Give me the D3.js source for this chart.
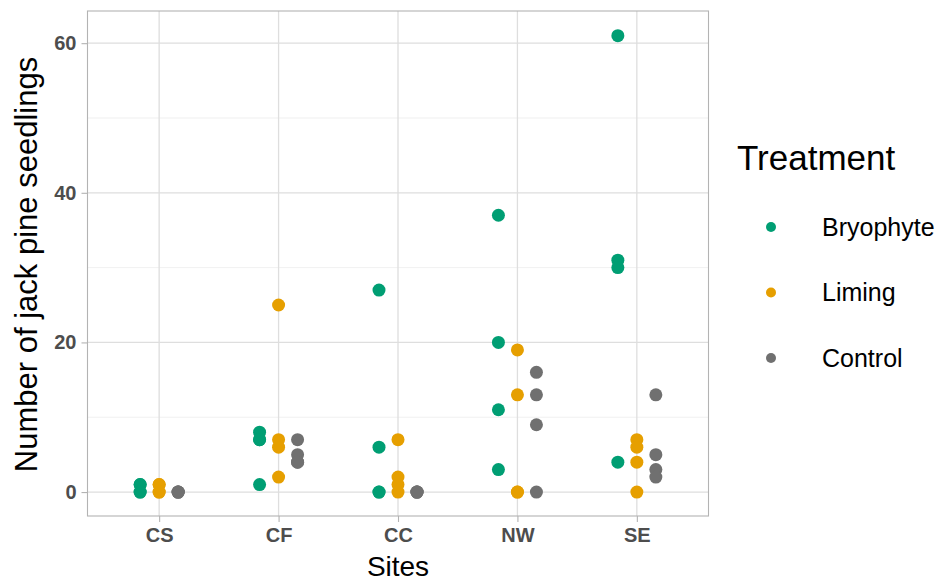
<!DOCTYPE html>
<html><head><meta charset="utf-8">
<script src="https://cdn.jsdelivr.net/npm/d3@7"></script>
<style>body{margin:0;background:#fff}svg{display:block;font-family:"Liberation Sans",Arial,sans-serif}</style>
</head><body><svg id="c" width="949" height="583"></svg>
<script>
const sites = ["CS","CF","CC","NW","SE"];
const treatments = ["Bryophyte","Liming","Control"];
const colors = ["#009E73","#E69F00","#707070"];
const yTicks = [0,20,40,60];
const yMinor = [10,30,50];
const bryophyte = {CS:[1,1,0,0], CF:[8,7,7,1], CC:[27,6,0,0], NW:[37,20,11,3], SE:[61,31,30,4]};
const liming    = {CS:[1,1,0,0], CF:[25,7,6,2], CC:[7,2,1,0], NW:[19,13,0,0], SE:[7,6,4,0]};
const control   = {CS:[0,0,0,0], CF:[7,5,4,4], CC:[0,0,0,0], NW:[16,13,9,0], SE:[13,5,3,2]};
const seriesData = [bryophyte, liming, control];

const svg = d3.select("#c");
const L=87.5, R=708.5, T=11, B=516;
const x = d3.scalePoint().domain(sites).range([L,R]).padding(0.6);
const dx = d3.scalePoint().domain(treatments).range([-19,19]);
const y = d3.scaleLinear().domain([-3.2,64.3]).range([B,T]);
const col = d3.scaleOrdinal().domain(treatments).range(colors);

// grid
const g = svg.append("g");
g.selectAll(".minor").data(yMinor).join("line")
  .attr("x1",L).attr("x2",R).attr("y1",d=>y(d)).attr("y2",d=>y(d))
  .attr("stroke","#ececec").attr("stroke-width",0.8);
g.selectAll(".major").data(yTicks).join("line")
  .attr("x1",L).attr("x2",R).attr("y1",d=>y(d)).attr("y2",d=>y(d))
  .attr("stroke","#dedede").attr("stroke-width",1.3);
g.selectAll(".vmajor").data(sites).join("line")
  .attr("y1",T).attr("y2",B).attr("x1",d=>x(d)).attr("x2",d=>x(d))
  .attr("stroke","#dedede").attr("stroke-width",1.3);

// axes
const yAxis = svg.append("g").attr("transform",`translate(${L},0)`)
  .call(d3.axisLeft(y).tickValues(yTicks).tickSize(6).tickPadding(5));
const xAxis = svg.append("g").attr("transform",`translate(0,${B})`)
  .call(d3.axisBottom(x).tickSize(6).tickPadding(6));
[yAxis,xAxis].forEach(a=>{
  a.select(".domain").remove();
  a.selectAll(".tick line").attr("stroke","#b3b3b3").attr("stroke-width",1.1);
  a.selectAll(".tick text").attr("fill","#4d4d4d").attr("font-size","20px")
    .attr("font-weight","bold").attr("font-family","Liberation Sans, Arial, sans-serif");
});

// panel border
svg.append("rect").attr("x",L).attr("y",T).attr("width",R-L).attr("height",B-T)
  .attr("fill","none").attr("stroke","#b3b3b3").attr("stroke-width",1.1);

// points
const pts = [];
treatments.forEach((t,i)=>{
  sites.forEach(s=>{ seriesData[i][s].forEach(v=>pts.push({t,s,v})); });
});
svg.append("g").selectAll("circle").data(pts).join("circle")
  .attr("cx",d=>x(d.s)+dx(d.t)).attr("cy",d=>y(d.v)).attr("r",6.5)
  .attr("fill",d=>col(d.t));

// titles
svg.append("text").attr("x",(L+R)/2).attr("y",576).attr("text-anchor","middle")
  .attr("font-size","28px").attr("fill","#000").text("Sites");
svg.append("text").attr("transform",`translate(37,${(T+B)/2+1}) rotate(-90)`)
  .attr("text-anchor","middle").attr("font-size","31px").attr("fill","#000")
  .text("Number of jack pine seedlings");

// legend
const lg = svg.append("g");
lg.append("text").attr("x",737).attr("y",170).attr("font-size","35px").attr("fill","#000").text("Treatment");
const ly = d3.scalePoint().domain(treatments).range([227,358]);
lg.selectAll("circle").data(treatments).join("circle")
  .attr("cx",771).attr("cy",d=>ly(d)).attr("r",5).attr("fill",d=>col(d));
lg.selectAll(".lab").data(treatments).join("text")
  .attr("x",822).attr("y",d=>ly(d)).attr("dy","0.35em").attr("font-size","25px")
  .attr("fill","#000").text(d=>d);
</script></body></html>
